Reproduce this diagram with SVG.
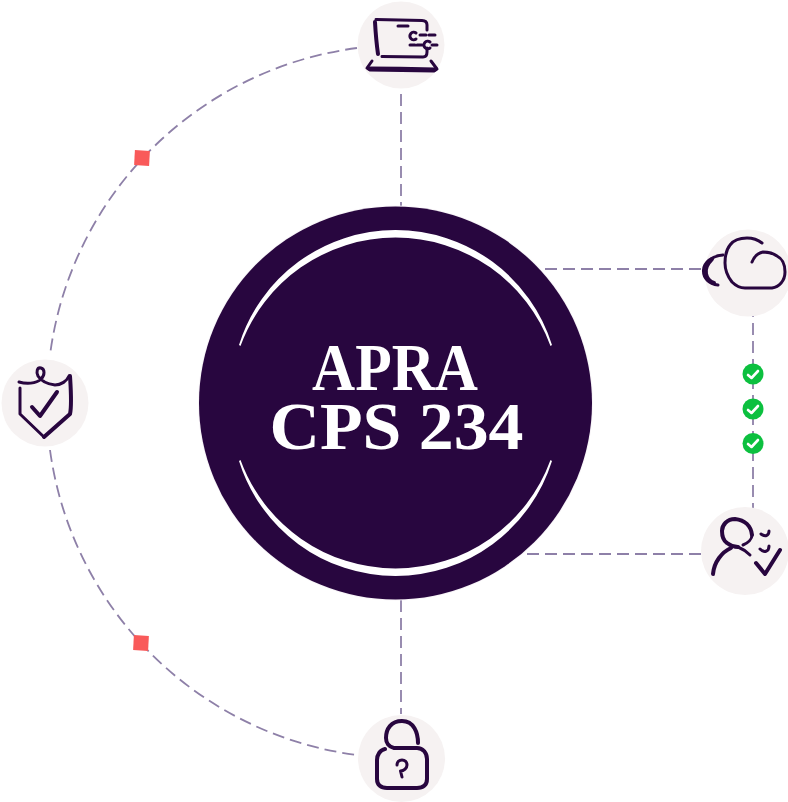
<svg xmlns="http://www.w3.org/2000/svg" width="788" height="802" viewBox="0 0 788 802">
<style>
.dash{fill:none;stroke:#8e80a8;stroke-width:1.8;stroke-dasharray:12 6}
.bg{fill:#f6f2f2}
.ink{fill:none;stroke:#28063f;stroke-width:3;stroke-linecap:round;stroke-linejoin:round}
.thick{stroke-width:4}
.title{font-family:"Liberation Serif","Noto Serif",serif;font-weight:700;font-size:67px;fill:#fff;text-anchor:middle}
.ok{fill:#0cc03f}
.tick{fill:none;stroke:#fff;stroke-width:2.600;stroke-linecap:round;stroke-linejoin:round}
.sq{fill:#f95a5a}
</style>
<rect width="788" height="802" fill="#fff"/>
<g id="connectors">
<path class="dash" d="M357 48A356 356 0 0 0 50 355"/>
<path class="dash" d="M50 450A356 356 0 0 0 357 755"/>
<path class="dash" d="M401 94V206"/>
<path class="dash" d="M401 600V714"/>
<path class="dash" d="M545 269H706"/>
<path class="dash" d="M527 554H701"/>
<path class="dash" d="M753 305V508"/>
</g>
<g id="marker-top"><rect class="sq" x="134.500" y="150.500" width="15" height="15" transform="rotate(3 142 158)"/></g>
<g id="marker-bottom"><rect class="sq" x="133.500" y="635.500" width="15" height="15" transform="rotate(3 141 643)"/></g>
<g id="hub">
<circle cx="395.500" cy="403" r="197.500" fill="#f8f5f8"/>
<circle cx="395.500" cy="403" r="196.500" fill="#28063f"/>
<path d="M239 345A164 164 0 0 1 552 345L550.500 346A165 165 0 0 0 240.500 346Z" fill="#fff"/>
<path d="M239 461A164 164 0 0 0 552 461L550.500 460A165 165 0 0 1 240.500 460Z" fill="#fff"/>
<text class="title" x="395" y="390" textLength="166" lengthAdjust="spacingAndGlyphs">APRA</text>
<text class="title" x="396.500" y="449" textLength="254" lengthAdjust="spacingAndGlyphs">CPS 234</text>
</g>
<g id="node-laptop">
<circle class="bg" cx="401" cy="45" r="43.500"/>
<path class="ink thick" d="M375 22Q376 40 378 54"/>
<path class="ink" d="M376 19.500L422 20.500Q427 20.500 427 25V30M427 48V52Q427 57 423 57L382 56.500M398 26H408"/>
<path class="ink" d="M372 61L367 68L370 70L434 71L437 69L431 61"/>
<path class="ink thick" d="M369 68.500L400 68.800L435 69.500"/>
<path class="ink" d="M416 33A3.800 3.800 0 1 0 416 39"/>
<path class="ink" d="M420 35H437" stroke-dasharray="6 3" stroke-linecap="butt"/>
<path class="ink" d="M430 42A3.800 3.800 0 1 0 430 48"/>
<path class="ink" d="M410 45H422" stroke-dasharray="5 2" stroke-linecap="butt"/>
<path class="ink" d="M432 45H437" stroke-linecap="butt"/>
</g>
<g id="node-cloud">
<circle class="bg" cx="748" cy="273" r="43.500"/>
<path class="ink" d="M723 255C711 256 704 263 703.500 270C703 278 709 284 718 285"/>
<path class="ink thick" d="M712 259C707 264 705 270 706 274C707 279 710 282 714 283"/>
<path class="ink" d="M762 243C757 239 752 238 747 238C739 238 733 241 730 245C726 250 725 256 725 263C725 271 728 277 732 282C736 286 740 288 745 288H772C779 287 785 281 785 272C785 263 781 258 777 256C773 253 768 252 763 252C758 253 754 257 752 262"/>
</g>
<g id="node-person">
<circle class="bg" cx="745" cy="551" r="44"/>
<path class="ink thick" d="M752 535C751 526 745 520 735 519C727 519 722 525 722 531C722 537 724 541 727 543C731 546 734 547 738 547"/>
<path class="ink" d="M738 547C743 549 747 552 750 555M743 545C748 543 752 539 752 535"/>
<path class="ink thick" d="M731 548C722 552 714 562 713 574"/>
<path class="ink" d="M769 531C769 536 765 537 761 534M769 546C769 552 764 553 760 549"/>
<path class="ink thick" d="M756 563L765 574L780 550"/>
</g>
<g id="node-shield">
<circle class="bg" cx="45" cy="403" r="43.500"/>
<path class="ink" d="M19 382C26 384 36 384 41 379C45 375 45 369 41 368C37 367 36 372 38 376C41 381 48 384 55 385C61 385 67 381 69 376"/>
<path class="ink thick" d="M70 376C71 392 72 405 70 414L44 437"/>
<path class="ink" d="M44 437L20 414V388"/>
<path class="ink thick" d="M32 407L40 416L57 392"/>
</g>
<g id="node-lock">
<circle class="bg" cx="401.500" cy="758.500" r="43.500"/>
<path class="ink thick" d="M418 743C418 733 414 721 402 721C391 721 386 729 386 738C386 743 389 747 394 748H417C423 748 427 753 427 759V779C427 785 423 788 417 788H387C381 788 377 785 377 779V760C377 755 380 750 385 749"/>
<path class="ink" d="M402 777L400.500 771C404 771 407 768 407 765C407 762 405 760 402 760C399 760 397 762 397 765"/>
</g>
<g id="node-check-1"><circle class="ok" cx="753" cy="374" r="10.500"/><path class="tick" d="M748 375L751.500 378L758 371"/></g>
<g id="node-check-2"><circle class="ok" cx="753" cy="409" r="10.500"/><path class="tick" d="M748 410L751.500 413L758 406"/></g>
<g id="node-check-3"><circle class="ok" cx="753" cy="443.500" r="10.500"/><path class="tick" d="M748 444L751.500 447L758 440"/></g>
</svg>
